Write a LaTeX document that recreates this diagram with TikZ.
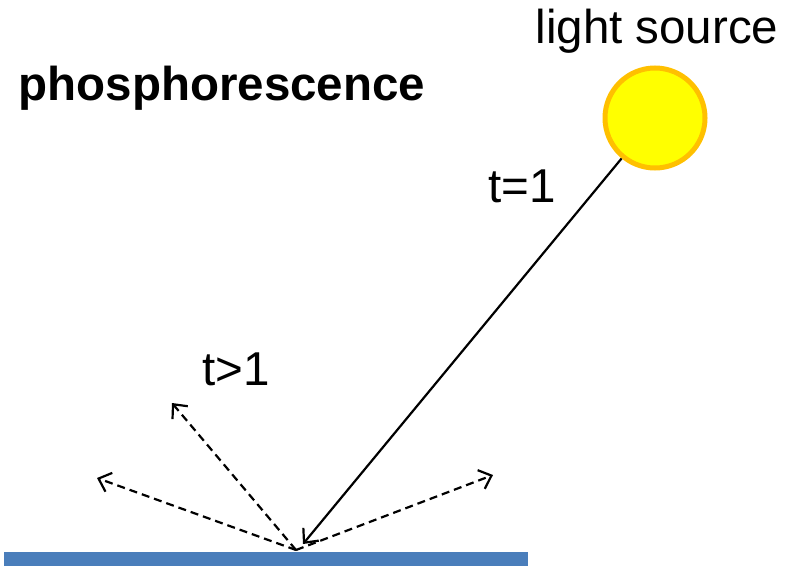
\documentclass[tikz,border=0pt]{standalone}
\usepackage{fontspec}
\setmainfont{Liberation Sans}
\usetikzlibrary{arrows.meta}
\definecolor{sunfill}{HTML}{FFFF00}
\definecolor{sunedge}{HTML}{FFC000}
\definecolor{barblue}{HTML}{4A7EBB}
\tikzset{
  lbl/.style={inner sep=0pt, font=\fontsize{47.5}{52}\selectfont},
  ray/.style={line width=2.2pt, -{Straight Barb[length=11pt,width=20pt,line width=2.2pt]}},
  emit/.style={ray, dash pattern=on 8pt off 5pt},
}
\begin{document}
\begin{tikzpicture}[x=1pt,y=-1pt]
\useasboundingbox (0,0) rectangle (789,565);
\fill[barblue] (4,552) rectangle (528,566);
\node[circle, draw=sunedge, fill=sunfill, line width=5pt, minimum size=100pt, inner sep=0pt] (sun) at (655,118) {};
\coordinate (hit) at (296,550);
\coordinate (tip) at (303,544);
\coordinate (e1) at (172,403);
\coordinate (e2) at (97,478);
\coordinate (e3) at (493,475);
\node[lbl] (src) at (657,31) {light source};
\node[lbl, font=\fontsize{47.5}{52}\selectfont\bfseries] (title) at (222,88) {phosphorescence};
\node[lbl] (t1) at (522,186) {t=1};
\node[lbl] (t2) at (236,369) {t>1};
\draw[ray] (sun) -- (tip);
\draw[emit] (hit) -- (e1);
\draw[emit] (hit) -- (e2);
\draw[emit] (hit) -- (e3);
\end{tikzpicture}
\end{document}
